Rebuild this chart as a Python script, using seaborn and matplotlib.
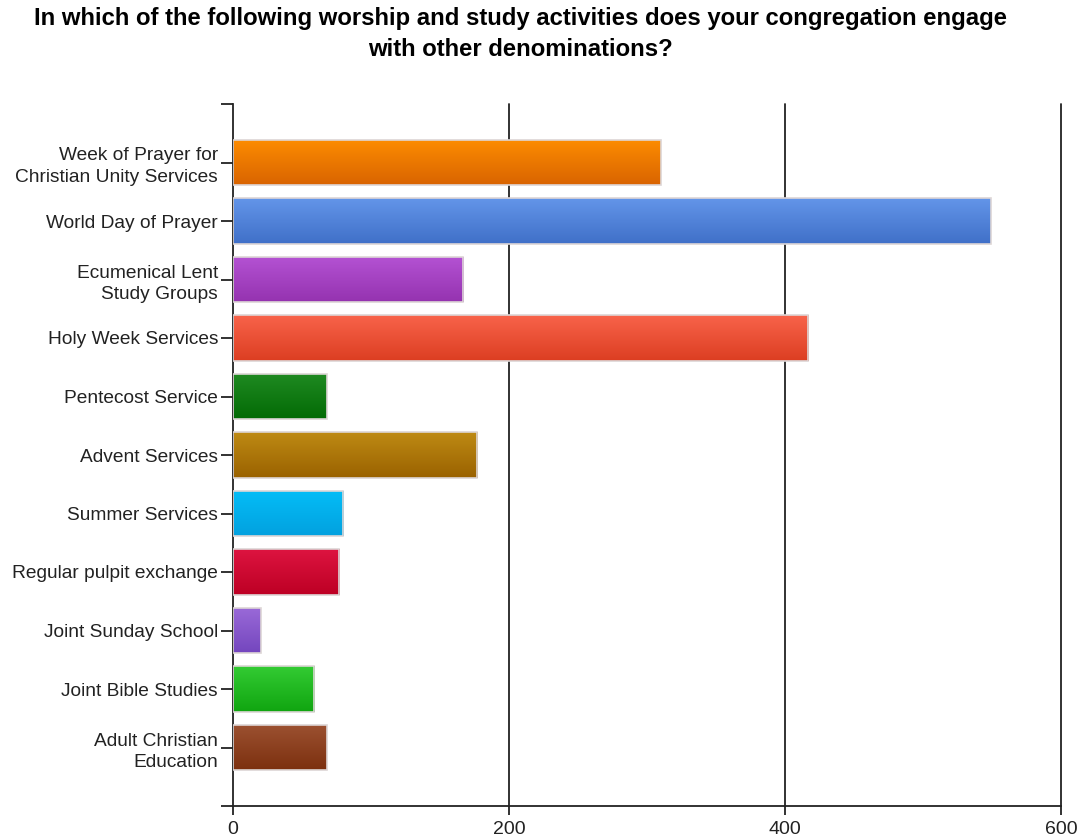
import numpy as np
import pandas as pd
import matplotlib
matplotlib.use("Agg")
import matplotlib.pyplot as plt
import matplotlib.colors as mcolors
import seaborn as sns

categories = [
    "Week of Prayer for\nChristian Unity Services",
    "World Day of Prayer",
    "Ecumenical Lent\nStudy Groups",
    "Holy Week Services",
    "Pentecost Service",
    "Advent Services",
    "Summer Services",
    "Regular pulpit exchange",
    "Joint Sunday School",
    "Joint Bible Studies",
    "Adult Christian\nEducation",
]
counts = [310, 549, 167, 417, 68, 177, 80, 77, 20, 59, 68]

# gradient end colours per bar (top, bottom)
top_colors = ["#fd8c00", "#6395e9", "#b452d3", "#f8634a", "#1f8a22", "#be8a14",
              "#04bdf7", "#dd1440", "#9a6ad8", "#33cb33", "#9c5131"]
bottom_colors = ["#d96400", "#4070c8", "#9533b0", "#dc3e22", "#036b05", "#9a6200",
                 "#02a1df", "#bd0024", "#7446be", "#10a510", "#7c300f"]
x_ticks = [0, 200, 400, 600]

df = pd.DataFrame({"activity": categories, "count": counts})

sns.set_theme(style="white")
plt.rcParams["font.family"] = ["Liberation Sans", "DejaVu Sans"]

fig = plt.figure(figsize=(10.83, 8.39), dpi=100)
ax = fig.add_axes([233 / 1083, 1 - 806 / 839, (1061 - 233) / 1083, (806 - 104) / 839])

sns.barplot(data=df, x="count", y="activity", orient="h", ax=ax,
            width=0.77, color="white", edgecolor="#ddd6d6", linewidth=1.2,
            saturation=1, zorder=3)

# vertical gradient fill clipped to each bar
for patch, c_top, c_bot in zip(ax.patches, top_colors, bottom_colors):
    x0, y0 = patch.get_x(), patch.get_y()
    w, h = patch.get_width(), patch.get_height()
    t = np.linspace(0, 1, 64)[:, None]
    ct = np.array(mcolors.to_rgb(c_top))
    cb = np.array(mcolors.to_rgb(c_bot))
    grad = (ct * (1 - t) + cb * t)[:, None, :].repeat(2, axis=1)
    # y axis is inverted: y0 is the top edge in screen terms
    im = ax.imshow(grad, extent=(x0, x0 + w, y0 + h, y0), aspect="auto",
                   interpolation="bilinear", zorder=2.5)
    im.set_clip_path(patch)
    patch.set_facecolor("none")

ax.set_xlim(0, 600)
ax.set_ylim(len(categories), -1)
ax.set_xticks(x_ticks)
ax.set_xticklabels([str(v) for v in x_ticks], fontsize=14, color="#222222")
yt = list(range(-1, len(categories) + 1))
ax.set_yticks(yt)
ax.set_yticklabels([""] + categories + [""], fontsize=13.8, color="#222222",
                   linespacing=1.36)
ax.set_xlabel("")
ax.set_ylabel("")

ax.grid(False)
for v in x_ticks[1:]:
    ax.axvline(v, color="#222222", linewidth=1.3, zorder=1, clip_on=False)

for side in ["top", "right"]:
    ax.spines[side].set_visible(False)
for side in ["left", "bottom"]:
    ax.spines[side].set_color("#222222")
    ax.spines[side].set_linewidth(1.3)

ax.tick_params(axis="y", which="major", left=True, length=8.3, width=1.3,
               color="#222222", pad=2.5)
ax.tick_params(axis="x", which="major", bottom=True, length=6.5, width=1.3,
               color="#222222", pad=4)
ax.set_axisbelow(False)

fig.text(0.481, 1 - 34 / 839,
         "In which of the following worship and study activities does your congregation engage\nwith other denominations?",
         ha="center", va="center", fontsize=17.2, fontweight="bold",
         linespacing=1.4, color="black")

fig.savefig("out.png", dpi=100, facecolor="white")
